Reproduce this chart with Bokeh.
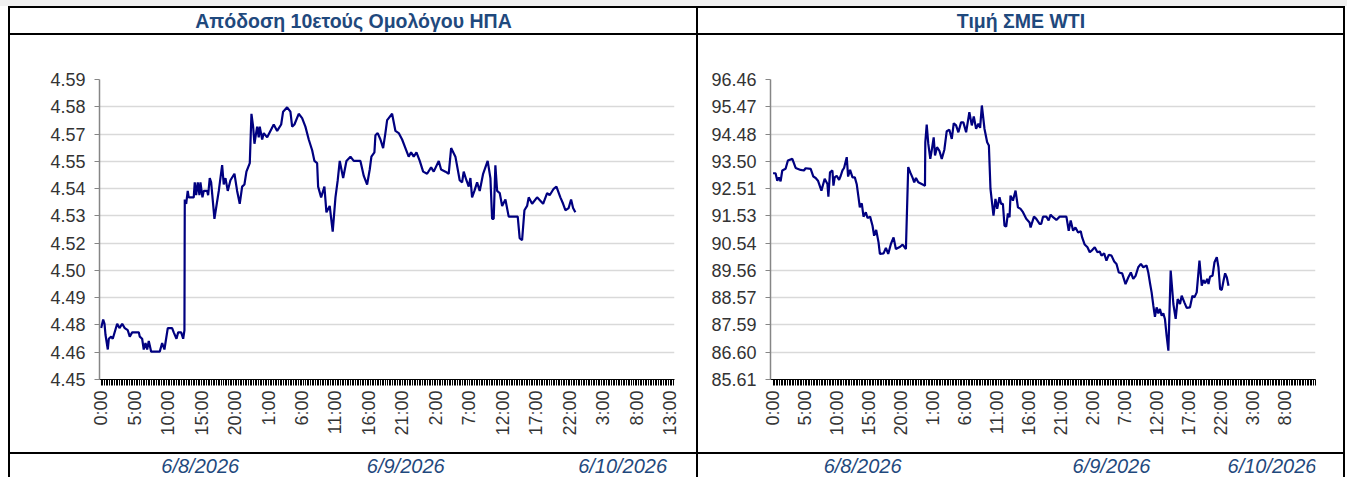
import math
import numpy as np
from bokeh.plotting import figure
from bokeh.models import FixedTicker, Range1d, ColumnDataSource
from bokeh.layouts import row, column
from bokeh.core.properties import value
from bokeh.embed import file_html
from bokeh.resources import INLINE

# ---------------- data ----------------
title_left = "Απόδοση 10ετούς Ομολόγου ΗΠΑ"
title_right = "Τιμή ΣΜΕ WTI"

hour_labels = ["0:00", "5:00", "10:00", "15:00", "20:00", "1:00", "6:00", "11:00", "16:00",
               "21:00", "2:00", "7:00", "12:00", "17:00", "22:00", "3:00", "8:00", "13:00"]
hour_label_pos = [0, 5, 10, 15, 20, 25, 30, 35, 40, 45, 50, 55, 60, 65, 70, 75, 80, 85]

yield_tick_labels = ["4.45", "4.46", "4.48", "4.49", "4.50", "4.52", "4.53", "4.54",
                     "4.55", "4.57", "4.58", "4.59"]
wti_tick_labels = ["85.61", "86.60", "87.59", "88.57", "89.56", "90.54", "91.53", "92.51",
                   "93.50", "94.48", "95.47", "96.46"]

date_labels = ["6/8/2026", "6/9/2026", "6/10/2026"]
date_pos_left = [14.8, 45.5, 77.9]
date_pos_right = [14.0, 52.9, 78.0]

yield_hours = [0.0, 0.3, 0.5, 0.64, 0.99, 1.14, 1.49, 1.73, 2.39, 2.73,
               3.14, 3.52, 3.97, 4.27, 4.63, 5.62, 5.77, 6.12, 6.36, 6.62,
               6.87, 7.11, 7.47, 8.75, 9.11, 9.45, 9.95, 10.6, 10.84, 11.25,
               11.5, 11.95, 12.25, 12.44, 12.49, 12.7, 12.93, 13.08, 13.83, 13.98,
               14.19, 14.43, 14.68, 14.83, 15.13, 15.32, 15.83, 15.98, 16.22, 16.43,
               16.92, 17.57, 18.07, 18.31, 18.57, 18.91, 19.31, 19.91, 20.31, 20.7,
               21.06, 21.4, 21.7, 22.2, 22.45, 22.7, 22.9, 23.3, 23.54, 23.69,
               24.05, 24.29, 24.8, 25.78, 26.29, 26.89, 27.18, 27.78, 28.27, 28.53,
               28.87, 29.51, 30.02, 30.51, 31.01, 31.52, 31.86, 32.26, 32.41, 32.86,
               33.35, 33.65, 34.14, 34.59, 35.0, 35.34, 35.64, 36.15, 36.64, 37.24,
               37.73, 38.73, 39.23, 39.73, 40.12, 40.37, 40.82, 40.97, 41.31, 41.72,
               42.12, 42.46, 42.72, 42.96, 43.46, 43.96, 44.45, 44.96, 45.45, 45.94,
               46.3, 46.69, 47.1, 47.59, 48.1, 48.69, 49.29, 49.68, 50.43, 50.78,
               51.43, 51.92, 52.28, 52.92, 53.56, 53.92, 54.16, 54.56, 54.91, 55.16,
               55.41, 55.76, 56.16, 56.55, 57.06, 57.74, 58.15, 58.4, 58.64, 58.89,
               59.15, 59.54, 59.9, 60.39, 60.88, 61.39, 61.88, 62.23, 62.52, 62.88,
               63.23, 63.63, 63.87, 64.38, 65.12, 66.02, 66.62, 67.0, 67.6, 68.01,
               68.6, 69.01, 69.35, 69.84, 70.2, 70.5, 70.84]
yield_values = [4.474, 4.478, 4.476, 4.471, 4.464, 4.469, 4.470, 4.469, 4.476, 4.474,
                4.476, 4.474, 4.473, 4.470, 4.472, 4.472, 4.470, 4.469, 4.464, 4.467,
                4.464, 4.468, 4.463, 4.463, 4.467, 4.464, 4.474, 4.474, 4.472, 4.469,
                4.472, 4.472, 4.469, 4.473, 4.534, 4.532, 4.538, 4.535, 4.535, 4.542,
                4.536, 4.542, 4.536, 4.542, 4.535, 4.538, 4.538, 4.536, 4.544, 4.542,
                4.525, 4.538, 4.550, 4.541, 4.544, 4.538, 4.543, 4.546, 4.538, 4.532,
                4.540, 4.541, 4.547, 4.551, 4.574, 4.568, 4.560, 4.568, 4.563, 4.568,
                4.562, 4.565, 4.563, 4.569, 4.566, 4.569, 4.575, 4.577, 4.575, 4.568,
                4.569, 4.574, 4.572, 4.568, 4.562, 4.557, 4.552, 4.551, 4.540, 4.535,
                4.540, 4.528, 4.531, 4.519, 4.535, 4.543, 4.552, 4.544, 4.552, 4.554,
                4.552, 4.552, 4.545, 4.541, 4.548, 4.554, 4.556, 4.564, 4.565, 4.562,
                4.558, 4.565, 4.571, 4.572, 4.574, 4.566, 4.565, 4.562, 4.558, 4.554,
                4.556, 4.554, 4.556, 4.552, 4.547, 4.546, 4.549, 4.547, 4.552, 4.548,
                4.547, 4.546, 4.558, 4.554, 4.543, 4.542, 4.547, 4.543, 4.540, 4.544,
                4.535, 4.538, 4.542, 4.538, 4.546, 4.552, 4.544, 4.525, 4.525, 4.550,
                4.538, 4.537, 4.531, 4.534, 4.526, 4.526, 4.526, 4.526, 4.516, 4.515,
                4.529, 4.531, 4.535, 4.532, 4.535, 4.532, 4.537, 4.536, 4.539, 4.540,
                4.535, 4.532, 4.529, 4.530, 4.534, 4.530, 4.528]

wti_hours = [0.0, 0.39, 0.66, 0.91, 1.18, 1.44, 1.96, 2.32, 3.01, 3.53,
             4.31, 4.83, 5.09, 5.88, 6.3, 6.66, 7.02, 7.56, 8.07, 8.5,
             8.65, 8.9, 9.28, 9.44, 9.64, 9.95, 10.32, 10.58, 10.85, 11.1,
             11.52, 11.73, 12.04, 12.42, 12.78, 13.09, 13.36, 13.56, 13.87, 14.14,
             14.5, 14.77, 15.17, 15.55, 15.8, 16.12, 16.49, 16.7, 17.28, 17.64,
             18.0, 18.42, 18.84, 19.2, 19.88, 20.25, 20.77, 21.13, 21.45, 21.82,
             22.07, 22.34, 22.7, 23.39, 23.75, 23.8, 24.02, 24.27, 24.58, 24.8,
             25.11, 25.32, 25.63, 25.99, 26.37, 26.78, 27.15, 27.56, 27.94, 28.25,
             28.61, 28.97, 29.39, 29.75, 30.18, 30.69, 31.07, 31.38, 31.74, 32.1,
             32.37, 32.64, 33.05, 33.47, 33.74, 33.99, 34.46, 34.77, 35.04, 35.4,
             35.66, 35.93, 36.18, 36.45, 36.71, 36.97, 37.12, 37.5, 37.91, 38.28,
             38.69, 39.07, 39.58, 40.1, 40.26, 40.79, 41.15, 41.67, 41.93, 42.2,
             42.72, 43.08, 43.39, 43.77, 44.29, 44.81, 45.86, 46.22, 46.53, 46.91,
             47.27, 47.69, 48.1, 48.32, 48.72, 49.15, 49.51, 49.93, 50.29, 50.71,
             51.07, 51.34, 51.76, 52.12, 52.48, 52.91, 53.33, 53.69, 54.05, 54.58,
             55.1, 55.53, 55.93, 56.31, 56.67, 57.09, 57.5, 57.88, 58.39, 58.66,
             58.91, 59.18, 59.45, 59.7, 59.96, 60.23, 60.48, 60.75, 61.01, 61.26,
             61.53, 61.8, 62.16, 62.58, 62.94, 63.25, 63.62, 63.88, 64.3, 64.66,
             65.18, 65.56, 65.87, 66.23, 66.66, 67.02, 67.28, 67.53, 67.91, 68.07,
             68.32, 68.7, 69.01, 69.37, 69.63, 69.89, 70.15, 70.42, 70.67, 70.94,
             71.2]
wti_values = [93.07, 93.07, 92.80, 92.92, 92.78, 93.17, 93.23, 93.53, 93.59, 93.26,
              93.19, 93.17, 93.25, 93.23, 92.95, 92.90, 92.80, 92.44, 92.87, 92.68,
              92.22, 93.10, 93.17, 92.62, 92.92, 92.98, 92.83, 92.98, 93.17, 93.26,
              93.65, 92.95, 93.19, 92.92, 92.92, 92.66, 92.20, 91.84, 91.98, 91.50,
              91.66, 91.45, 91.50, 91.17, 90.81, 91.02, 90.57, 90.15, 90.17, 90.37,
              90.15, 90.51, 90.75, 90.33, 90.41, 90.49, 90.33, 93.29, 93.10, 92.90,
              92.74, 92.90, 92.74, 92.66, 92.62, 94.19, 94.83, 94.13, 93.59, 93.89,
              94.37, 93.71, 94.01, 93.89, 93.59, 93.92, 94.59, 94.64, 94.31, 94.88,
              94.80, 94.55, 94.91, 94.91, 94.55, 95.28, 94.80, 95.12, 94.68, 94.86,
              94.71, 95.52, 94.68, 94.19, 94.07, 92.50, 91.54, 92.14, 91.78, 92.20,
              91.96, 91.96, 91.17, 91.14, 91.62, 91.48, 92.26, 92.08, 92.44, 91.84,
              91.78, 91.66, 91.42, 91.29, 91.11, 91.50, 91.42, 91.24, 91.24, 91.50,
              91.50, 91.36, 91.57, 91.48, 91.38, 91.50, 91.50, 90.99, 91.36, 90.99,
              91.11, 90.93, 90.97, 90.75, 90.49, 90.39, 90.21, 90.30, 90.39, 90.21,
              90.24, 90.09, 90.17, 89.91, 90.12, 90.09, 89.88, 89.79, 89.48, 89.45,
              89.06, 89.30, 89.48, 89.25, 89.36, 89.67, 89.79, 89.67, 89.73, 89.48,
              89.12, 88.76, 88.28, 87.88, 88.22, 88.00, 88.16, 87.92, 88.00, 87.80,
              87.19, 86.65, 89.55, 88.34, 87.80, 88.52, 88.34, 88.64, 88.40, 88.20,
              88.22, 88.64, 88.58, 88.76, 89.91, 89.00, 89.21, 89.09, 89.25, 89.06,
              89.33, 89.36, 89.85, 90.03, 89.67, 88.88, 88.85, 89.18, 89.45, 89.30,
              89.00]

# ---------------- styling ----------------
FONT = "Liberation Sans"
BLUE_TXT = "#1F497D"
LINE_COL = "#000080"
GRID_COL = "#D9D9D9"
LBL_COL = "#333333"

TITLE_H = 25
CHART_H = 417
DATE_H = 23
TICKS_PER_HOUR = 4
WHITE_HOST = {"background-color": "white"}


def blank_fig(width, height, xr, left, right):
    p = figure(width=width, height=height, x_range=xr, y_range=Range1d(0, 1),
               output_backend="svg", toolbar_location=None, title=None,
               x_axis_type=None, y_axis_type=None,
               min_border=0, min_border_left=left, min_border_right=right,
               min_border_top=0, min_border_bottom=0, styles=WHITE_HOST)
    p.outline_line_color = None
    p.grid.visible = False
    p.background_fill_color = "white"
    p.border_fill_color = "white"
    return p


def title_fig(text, width, xr, left, right):
    # the cell's frame is aligned with the chart frame below; centre the title on the cell
    span = xr.end - xr.start
    x_mid = xr.start + (width / 2 - left) * span / (width - left - right)
    p = blank_fig(width, TITLE_H, xr, left, right)
    src = ColumnDataSource(dict(x=[x_mid], y=[0.5], t=[text]))
    p.text(x="x", y="y", text="t", source=src, text_align="center", text_baseline="middle",
           text_font=value(FONT), text_font_size="19.5px", text_font_style="bold",
           text_color=BLUE_TXT)
    return p


def chart_fig(width, hours, vals, xr, y_labels, left, right):
    y0, y1 = float(y_labels[0]), float(y_labels[-1])
    p = figure(width=width, height=CHART_H, x_range=Range1d(*xr), y_range=Range1d(y0, y1),
               output_backend="svg", toolbar_location=None, title=None,
               min_border_left=left, min_border_right=right,
               min_border_top=44, min_border_bottom=73, styles=WHITE_HOST)
    p.outline_line_color = None
    p.background_fill_color = "white"
    p.border_fill_color = "white"
    p.xgrid.visible = False
    p.ygrid.grid_line_color = GRID_COL
    p.ygrid.grid_line_width = 1.5

    p.line(hours, vals, line_color=LINE_COL, line_width=2.2)

    yt = list(np.linspace(y0, y1, len(y_labels)))
    p.yaxis.ticker = FixedTicker(ticks=yt)
    p.yaxis.major_label_overrides = {t: s for t, s in zip(yt, y_labels)}
    p.yaxis.axis_line_color = "#868686"
    p.yaxis.axis_line_width = 1.5
    p.yaxis.major_tick_line_color = "#868686"
    p.yaxis.major_tick_in = 0
    p.yaxis.major_tick_out = 5
    p.yaxis.minor_tick_line_color = None
    p.yaxis.major_label_text_font = FONT
    p.yaxis.major_label_text_font_size = "18px"
    p.yaxis.major_label_text_color = LBL_COL
    p.yaxis.major_label_standoff = 9

    # a tick mark for every 15 minutes, labels only every 5 hours
    n_ticks = int(math.floor(xr[1] * TICKS_PER_HOUR)) + 1
    xt = [i / TICKS_PER_HOUR for i in range(n_ticks)]
    lab = dict(zip(hour_label_pos, hour_labels))
    p.xaxis.ticker = FixedTicker(ticks=xt)
    p.xaxis.major_label_overrides = {t: lab.get(t, "") for t in xt}
    p.xaxis.axis_line_color = "black"
    p.xaxis.axis_line_width = 1
    p.xaxis.major_tick_line_color = "black"
    p.xaxis.major_tick_line_width = 1
    p.xaxis.minor_tick_line_color = None
    p.xaxis.major_tick_in = 0
    p.xaxis.major_tick_out = 6
    p.xaxis.major_label_orientation = math.pi / 2
    p.xaxis.major_label_text_font = FONT
    p.xaxis.major_label_text_font_size = "18px"
    p.xaxis.major_label_text_color = LBL_COL
    p.xaxis.major_label_standoff = 5
    return p


def date_fig(width, xr, positions, left, right):
    p = blank_fig(width, DATE_H, xr, left, right)
    src = ColumnDataSource(dict(x=positions, y=[0.5] * len(positions), t=date_labels))
    p.text(x="x", y="y", text="t", source=src, text_align="center", text_baseline="middle",
           text_font=value(FONT), text_font_size="20px", text_font_style="italic",
           text_color=BLUE_TXT)
    return p


WL, WR = 686, 645
LL, RL = 89, 22
LR, RR = 72, 28

cL = chart_fig(WL, yield_hours, yield_values, (-0.25, 85.65), yield_tick_labels, LL, RL)
tL = title_fig(title_left, WL, cL.x_range, LL, RL)
dL = date_fig(WL, cL.x_range, date_pos_left, LL, RL)

cR = chart_fig(WR, wti_hours, wti_values, (-0.4, 84.8), wti_tick_labels, LR, RR)
tR = title_fig(title_right, WR, cR.x_range, LR, RR)
dR = date_fig(WR, cR.x_range, date_pos_right, LR, RR)

# thin light-grey strip along the top of the page
band = figure(width=1347, height=6, output_backend="svg", toolbar_location=None, title=None,
              x_axis_type=None, y_axis_type=None, min_border=0, min_border_left=0,
              min_border_right=0, min_border_top=0, min_border_bottom=0,
              styles={"background-color": "#F0F0F0"})
band.outline_line_color = None
band.grid.visible = False
band.background_fill_color = "#F0F0F0"
band.border_fill_color = "#F0F0F0"

colL = column(tL, cL, dL, spacing=2)
colR = column(tR, cR, dR, spacing=2)
panels = row(colL, colR, spacing=2,
             styles={"background-color": "black", "padding": "2px 2px 0px 2px",
                     "margin-left": "8px"})
layout = column(band, panels, spacing=0)

open("out.html", "w").write(file_html(layout, INLINE))
